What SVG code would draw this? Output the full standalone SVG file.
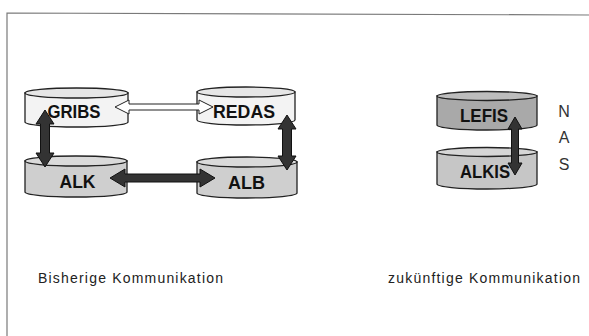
<svg xmlns="http://www.w3.org/2000/svg" width="589" height="336" viewBox="0 0 589 336">
<defs>
<style>
.frame{fill:none;stroke:#7a7a7a;stroke-width:1.2}
.cyl{stroke:#222;stroke-width:1.3}
.white .body{fill:#f3f3f3}.white .top{fill:#e6e6e6}
.light .body{fill:#cfcfcf}.light .top{fill:#dadada}
.dark .body{fill:#a9a9a9}.dark .top{fill:#bdbdbd}
.mid .body{fill:#c6c6c6}.mid .top{fill:#d6d6d6}
.lbl{font-family:"Liberation Sans",Arial,sans-serif;font-weight:bold;font-size:19px;fill:#111;text-anchor:middle}
.cap{font-family:"Liberation Sans",Arial,sans-serif;font-size:14px;fill:#222}
.nas{font-family:"Liberation Sans",Arial,sans-serif;font-size:16px;fill:#333;text-anchor:middle}
.arrD{fill:#333;stroke:#111;stroke-width:1}
.arrW{fill:#fff;stroke:#222;stroke-width:1}
</style>
</defs>
<polyline class="frame" points="7,336 7,13 589,15"/>
<g id="GRIBS" class="white">
<path class="cyl body" d="M25,93 V122 A51.5,5 0 0 0 128,122 V93 Z"/>
<ellipse class="cyl top" cx="76.5" cy="93" rx="51.5" ry="5"/>
<text class="lbl" x="74" y="118" textLength="53" lengthAdjust="spacingAndGlyphs">GRIBS</text>
</g>
<g id="REDAS" class="white">
<path class="cyl body" d="M197,92 V120 A49,5 0 0 0 295,120 V92 Z"/>
<ellipse class="cyl top" cx="246" cy="92" rx="49" ry="5"/>
<text class="lbl" x="244" y="118" textLength="62" lengthAdjust="spacingAndGlyphs">REDAS</text>
</g>
<g id="ALK" class="light">
<path class="cyl body" d="M25,161 V192 A51,5 0 0 0 127,192 V161 Z"/>
<ellipse class="cyl top" cx="76" cy="161" rx="51" ry="5"/>
<text class="lbl" x="77.5" y="188" textLength="36" lengthAdjust="spacingAndGlyphs">ALK</text>
</g>
<g id="ALB" class="light">
<path class="cyl body" d="M197,162 V193 A50,5 0 0 0 297,193 V162 Z"/>
<ellipse class="cyl top" cx="247" cy="162" rx="50" ry="5"/>
<text class="lbl" x="246.5" y="189" textLength="37" lengthAdjust="spacingAndGlyphs">ALB</text>
</g>
<g id="LEFIS" class="dark">
<path class="cyl body" d="M437,96 V125 A50,5 0 0 0 537,125 V96 Z"/>
<ellipse class="cyl top" cx="487" cy="96" rx="50" ry="4.5"/>
<text class="lbl" x="484" y="122" textLength="48" lengthAdjust="spacingAndGlyphs">LEFIS</text>
</g>
<g id="ALKIS" class="mid">
<path class="cyl body" d="M437,152 V184 A50,5 0 0 0 537,184 V152 Z"/>
<ellipse class="cyl top" cx="487" cy="152" rx="50" ry="4.5"/>
<text class="lbl" x="485" y="178" textLength="50" lengthAdjust="spacingAndGlyphs">ALKIS</text>
</g>
<g id="connectors">
<polygon class="arrW" points="115,107 129,100 129,104 199,104 199,100 213,107 199,114 199,110 129,110 129,114"/>
<polygon class="arrD" points="110,178 125,169 125,174 200,174 200,169 215,178 200,187 200,182 125,182 125,187"/>
<polygon class="arrD" points="45,110 54,124 49.5,124 49.5,153 54,153 45,167 36,153 40.5,153 40.5,124 36,124"/>
<polygon class="arrD" points="287,115 296,129 291.5,129 291.5,156 296,156 287,170 278,156 282.5,156 282.5,129 278,129"/>
<polygon class="arrD" points="515,117 522,129 518.5,129 518.5,163 522,163 515,175 508,163 511.5,163 511.5,129 508,129"/>
</g>
<g id="NAS">
<text class="nas" x="564" y="117">N</text>
<text class="nas" x="564" y="143">A</text>
<text class="nas" x="564" y="170">S</text>
</g>
<text class="cap" x="38" y="283" textLength="185" lengthAdjust="spacing">Bisherige Kommunikation</text>
<text class="cap" x="388" y="283" textLength="192" lengthAdjust="spacing">zukünftige Kommunikation</text>
</svg>
